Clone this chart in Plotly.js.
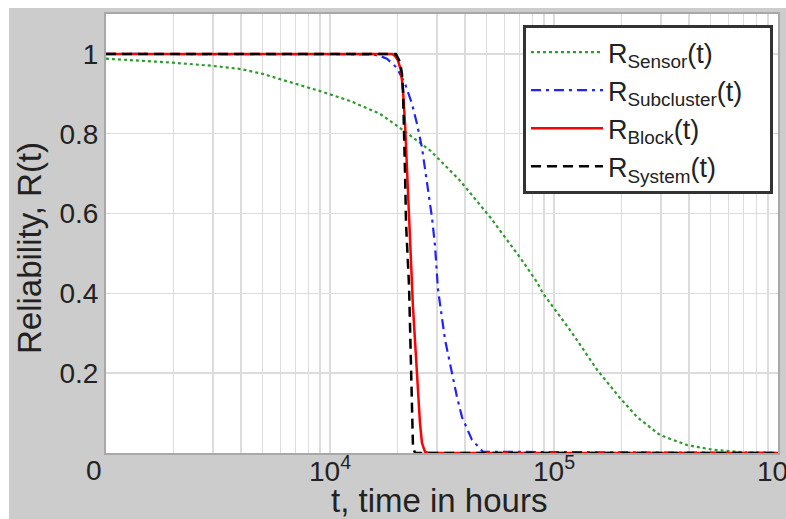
<!DOCTYPE html>
<html>
<head>
<meta charset="utf-8">
<script src="https://cdn.plot.ly/plotly-3.0.1.min.js"></script>
<style>html,body{margin:0;padding:0;background:#fff;}#chart{width:786px;height:519px;}</style>
</head>
<body>
<div id="chart"></div>
<script>
// ---- data ----
const sensorT = [1000, 2000, 3000, 4000, 5000, 6800, 9000, 12300, 16700, 20500, 28000, 38000, 52000, 70500, 84000, 89300, 118000, 156000, 197000, 235000, 297000, 392000, 513000, 700000, 1000000];
const sensorR = [0.988, 0.978, 0.97, 0.962, 0.95, 0.928, 0.907, 0.882, 0.85, 0.815, 0.758, 0.683, 0.59, 0.49, 0.428, 0.40, 0.308, 0.208, 0.138, 0.09, 0.045, 0.02, 0.008, 0.002, 0.0];

const subT = [1000, 10000, 15400, 16700, 17960, 19900, 21630, 23230, 24450, 25740, 27100, 28530, 29420, 30350, 32600, 35060, 36900, 38840, 43040, 48200, 1000000];
const subR = [1, 1, 0.999, 0.995, 0.988, 0.965, 0.925, 0.875, 0.825, 0.765, 0.683, 0.59, 0.52, 0.41, 0.285, 0.2, 0.14, 0.09, 0.033, 0.003, 0];

const blockT = [1000, 10000, 19000, 19500, 20130, 20750, 21180, 21630, 22070, 22530, 23000, 23230, 23470, 24210, 24720, 25220, 25740, 26550, 27500, 1000000];
const blockR = [1, 1, 1, 0.995, 0.983, 0.958, 0.908, 0.825, 0.70, 0.575, 0.49, 0.41, 0.365, 0.24, 0.158, 0.075, 0.025, 0.003, 0, 0];

const systemT = [1000, 10000, 19700, 20540, 20960, 21180, 21400, 21630, 21850, 22070, 22530, 22760, 23000, 23230, 23470, 23950, 1000000];
const systemR = [1, 1, 1, 0.98, 0.95, 0.908, 0.825, 0.70, 0.575, 0.52, 0.42, 0.32, 0.2, 0.09, 0.015, 0, 0];

const seriesNames = ['R<sub>Sensor</sub>(t)', 'R<sub>Subcluster</sub>(t)\u00a0\u00a0\u00a0', 'R<sub>Block</sub>(t)', 'R<sub>System</sub>(t)'];

const xTickVals = [1000,2000,3000,4000,5000,6000,7000,8000,9000,
                   10000,20000,30000,40000,50000,60000,70000,80000,90000,
                   100000,200000,300000,400000,500000,600000,700000,800000,900000,1000000];
const xTickText = xTickVals.map(v => v === 10000 ? '10<sup>4</sup>' : v === 100000 ? '10<sup>5</sup>' : v === 1000000 ? '10<sup>6</sup>' : '');
const yTickVals = [0, 0.2, 0.4, 0.6, 0.8, 1];
const yTickText = ['', '0.2', '0.4', '0.6', '0.8', '1'];

const xTitle = 't, time in hours';
const yTitle = 'Reliability, R(t)';

const FONT = 'Liberation Sans, Arial, Helvetica, sans-serif';

const traces = [
  {x: sensorT, y: sensorR, name: seriesNames[0], mode: 'lines', line: {color: '#2f9a2f', width: 2.2, dash: 'dot'}},
  {x: subT, y: subR, name: seriesNames[1], mode: 'lines', line: {color: '#2222ff', width: 2.2, dash: '10px,5px,3px,5px'}},
  {x: blockT, y: blockR, name: seriesNames[2], mode: 'lines', line: {color: '#ff0000', width: 2.5}},
  {x: systemT, y: systemR, name: seriesNames[3], mode: 'lines', line: {color: '#000000', width: 2.5, dash: '10px,6px'}}
];

const layout = {
  width: 786, height: 519, autosize: false,
  margin: {l: 106, r: 8, t: 14, b: 66},
  paper_bgcolor: '#cccccc',
  plot_bgcolor: '#ffffff',
  font: {family: FONT, color: '#222', size: 26},
  showlegend: true,
  shapes: [
    {type: 'rect', xref: 'paper', yref: 'paper', x0: -0.3, x1: 1.2, y0: 1.0137, y1: 1.2,
     fillcolor: '#ffffff', line: {width: 0}, layer: 'below'},
    {type: 'rect', xref: 'paper', yref: 'paper', x0: -0.3, x1: -0.1443, y0: -0.3, y1: 1.2,
     fillcolor: '#ffffff', line: {width: 0}, layer: 'below'}
  ],
  xaxis: {
    type: 'log', range: [3, 6], autorange: false,
    tickmode: 'array', tickvals: xTickVals, ticktext: xTickText,
    showgrid: true, gridcolor: '#dcdcdc', gridwidth: 1.5,
    showline: true, linecolor: '#a8a8a8', linewidth: 2, mirror: true,
    ticks: '', zeroline: false, layer: 'below traces',
    tickfont: {size: 28, color: '#222'},
    ticklabeloverflow: 'allow', ticklabelstandoff: -8,
    automargin: false
  },
  yaxis: {
    range: [0, 1.1], autorange: false,
    tickmode: 'array', tickvals: yTickVals, ticktext: yTickText,
    showgrid: true, gridcolor: '#dcdcdc', gridwidth: 1.5,
    showline: true, linecolor: '#a8a8a8', linewidth: 2, mirror: true,
    ticks: '', zeroline: false, layer: 'below traces',
    tickfont: {size: 28, color: '#222'},
    automargin: false
  },
  annotations: [
    {text: '0', xref: 'paper', yref: 'y', x: 0, y: 0, xanchor: 'right', yanchor: 'top',
     xshift: -2, yshift: 0, showarrow: false, font: {size: 28, color: '#222'}},
    {text: xTitle, xref: 'paper', yref: 'paper', x: 0.496, y: -0.1093, xanchor: 'center', yanchor: 'middle',
     showarrow: false, font: {size: 33, color: '#222'}},
    {text: yTitle, xref: 'paper', yref: 'paper', x: -0.113, y: 0.467, xanchor: 'center', yanchor: 'middle',
     textangle: -90, showarrow: false, font: {size: 33, color: '#222'}}
  ],
  legend: {
    x: 0.6205, y: 0.975, xanchor: 'left', yanchor: 'top',
    bgcolor: '#ffffff', bordercolor: '#333333', borderwidth: 3,
    font: {size: 27, color: '#222'}, itemwidth: 72, tracegroupgap: 0
  }
};

Plotly.newPlot('chart', traces, layout, {staticPlot: true, displayModeBar: false});
</script>
</body>
</html>
